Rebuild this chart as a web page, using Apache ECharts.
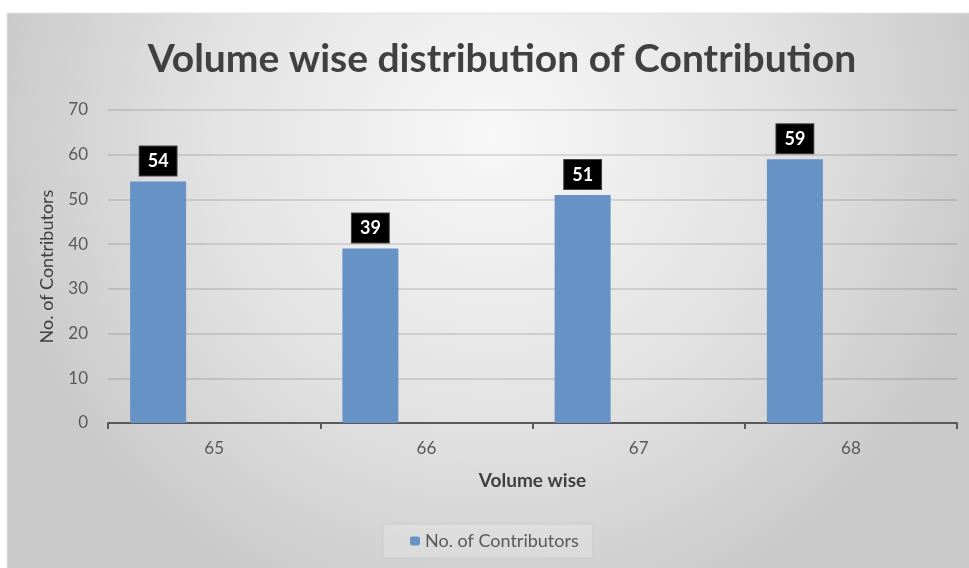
<!DOCTYPE html>
<html>
<head>
<meta charset="utf-8">
<title>Volume wise distribution of Contribution</title>
<script src="https://cdn.jsdelivr.net/npm/echarts@6/dist/echarts.min.js"></script>
<style>
  html, body { margin: 0; padding: 0; background: #ffffff; }
  #chart { width: 969px; height: 568px; }
</style>
</head>
<body>
<div id="chart"></div>
<script>
// Volumes on the category axis and contributor counts per volume
const volumes = ['65', '66', '67', '68'];
const contributors = [54, 39, 51, 59];
const yTicks = { min: 0, max: 70, step: 10 };

const seriesName = 'No. of Contributors';
const emptySlot = volumes.map(() => '-');

const chart = echarts.init(document.getElementById('chart'), null, { renderer: 'canvas' });

const labelFont = 'Lato, "Open Sans", sans-serif';
const textGrey = '#595959';

chart.setOption({
  backgroundColor: '#ffffff',
  animation: false,
  graphic: [{
    type: 'rect',
    z: -10,
    silent: true,
    shape: { x: 7, y: 13, width: 970, height: 560 },
    style: {
      fill: new echarts.graphic.RadialGradient(0.5, 0.22, 0.9, [
        { offset: 0, color: '#f8f8f8' },
        { offset: 0.55, color: '#e3e3e3' },
        { offset: 1, color: '#cacaca' }
      ]),
      stroke: '#e4e4e4',
      lineWidth: 1
    }
  }],
  title: {
    text: 'Volume wise distribution of Contribution',
    left: 497,
    top: 35,
    textAlign: 'center',
    textStyle: {
      fontFamily: labelFont,
      fontSize: 39,
      fontWeight: 'bold',
      color: '#404040'
    }
  },
  legend: {
    data: [seriesName],
    left: 383,
    top: 524,
    padding: [8, 14, 8, 27],
    itemWidth: 10,
    itemHeight: 9,
    backgroundColor: 'rgba(255,255,255,0.18)',
    borderColor: 'rgba(0,0,0,0.05)',
    borderWidth: 1,
    textStyle: { fontFamily: labelFont, fontSize: 18, color: textGrey }
  },
  grid: { left: 108, right: 12, top: 110, bottom: 145 },
  xAxis: {
    type: 'category',
    data: volumes,
    name: 'Volume wise',
    nameLocation: 'middle',
    nameGap: 48,
    nameTextStyle: { fontFamily: labelFont, fontSize: 19, fontWeight: 'bold', color: '#404040' },
    axisLine: { show: true, lineStyle: { color: '#595959', width: 2 } },
    axisTick: { show: true, inside: false, length: 6, lineStyle: { color: '#595959', width: 2 } },
    axisLabel: { margin: 17, fontFamily: labelFont, fontSize: 17, color: textGrey }
  },
  yAxis: {
    type: 'value',
    min: yTicks.min,
    max: yTicks.max,
    interval: yTicks.step,
    name: 'No. of Contributors',
    nameLocation: 'middle',
    nameGap: 52,
    nameRotate: 90,
    nameTextStyle: { fontFamily: labelFont, fontSize: 18, color: '#404040' },
    axisLine: { show: false },
    axisTick: { show: false },
    axisLabel: { margin: 20, fontFamily: labelFont, fontSize: 17, color: textGrey },
    splitLine: { lineStyle: { color: 'rgba(0,0,0,0.15)', width: 1.5 } }
  },
  series: [
    {
      name: seriesName,
      type: 'bar',
      data: contributors,
      barWidth: 56,
      barGap: '0%',
      itemStyle: { color: '#6792c6' },
      label: {
        show: true,
        position: 'top',
        distance: 6,
        backgroundColor: '#000000',
        borderColor: '#444444',
        borderWidth: 1,
        padding: [6, 8, 5, 8],
        color: '#ffffff',
        fontFamily: labelFont,
        fontWeight: 'bold',
        fontSize: 18
      }
    },
    { name: 'slot2', type: 'bar', data: emptySlot, barWidth: 56, barGap: '0%' },
    { name: 'slot3', type: 'bar', data: emptySlot, barWidth: 56, barGap: '0%' }
  ]
});
</script>
</body>
</html>
